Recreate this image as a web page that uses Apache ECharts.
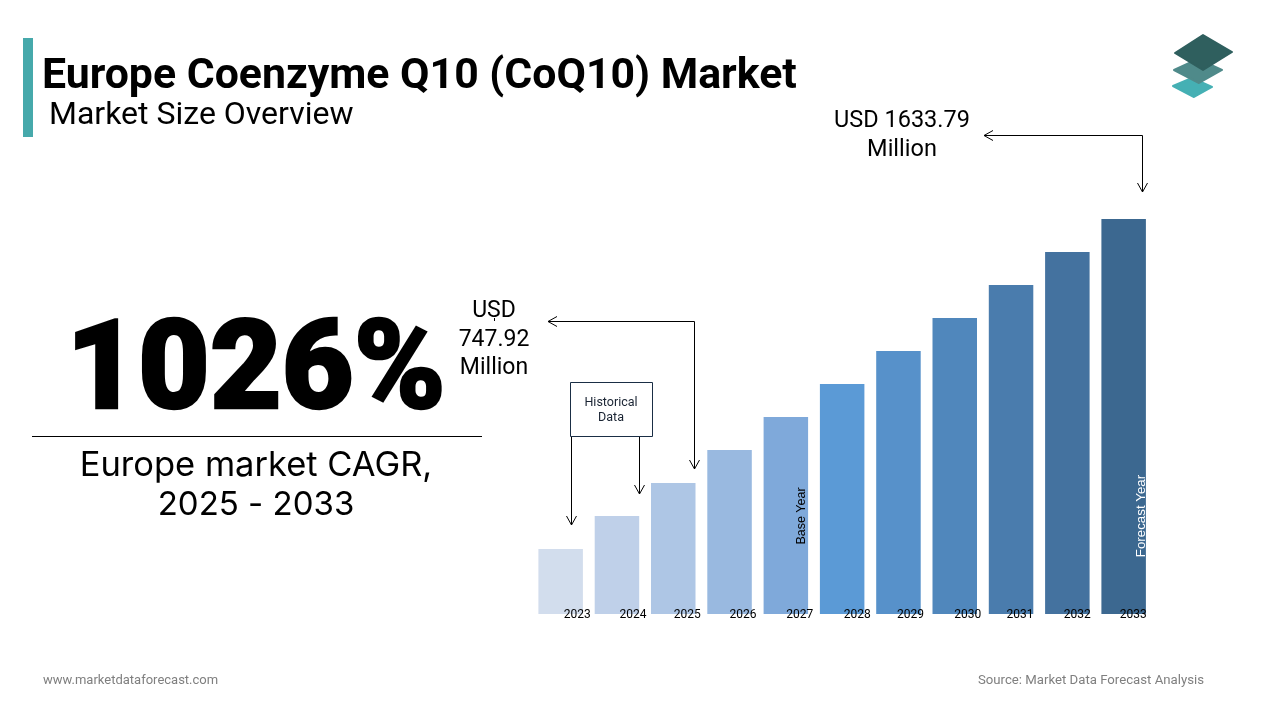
<!DOCTYPE html>
<html>
<head>
<meta charset="utf-8">
<title>Europe Coenzyme Q10 (CoQ10) Market</title>
<script src="https://cdn.jsdelivr.net/npm/echarts@6/dist/echarts.min.js"></script>
<style>
html, body { margin: 0; padding: 0; background: #fff; }
#main { width: 1280px; height: 720px; }
</style>
</head>
<body>
<div id="main"></div>
<script>
// values, only 2025 and 2033 are printed on it
var years = ['2023', '2024', '2025', '2026', '2027', '2028', '2029', '2030', '2031', '2032', '2033'];
var marketSize = [526.5, 637.2, 747.92, 858.6, 969.4, 1080.1, 1190.9, 1301.6, 1412.3, 1523.1, 1633.79];
var barColors = ['#d2dded', '#bfd0e9', '#aec6e5', '#99b9e0', '#7fa9da', '#5b9ad6', '#5791ca', '#5087bc', '#4a7cad', '#44729f', '#3c6890'];

var myChart = echarts.init(document.getElementById('main'));

// year labels sit off-centre by a different amount under each bar
var labelShift = [33, 32, 28, 27, 28, 30, 24, 26, 18, 20, 19];

function text(x, y, str, size, opts) {
	opts = opts || {};
	return {
		type: 'text', x: x, y: y, rotation: opts.rotation || 0, silent: true, z: 10,
		style: {
			text: str,
			fill: opts.color || '#000',
			stroke: opts.stroke || null,
			lineWidth: opts.strokeWidth || 0,
			font: (opts.weight || 'normal') + ' ' + size + 'px ' + (opts.family || 'Roboto'),
			align: opts.align || 'center',
			verticalAlign: 'middle'
		}
	};
}

function line(points, color, width) {
	return {
		type: 'polyline', silent: true, z: 10,
		shape: { points: points },
		style: { stroke: color || '#000', lineWidth: width || 1, fill: null }
	};
}

function diamond(points, color) {
	return {
		type: 'polygon', silent: true, z: 10,
		shape: { points: points },
		style: { fill: color, stroke: color, lineWidth: 2, lineJoin: 'round' }
	};
}

function arrowDown(x, y) {
	return line([[x - 5, y - 9], [x, y], [x + 5, y - 9]]);
}

function arrowLeft(x, y) {
	return line([[x + 9, y - 5], [x, y], [x + 9, y + 5]]);
}

var graphics = [
	{ type: 'rect', silent: true, shape: { x: 23, y: 38, width: 10, height: 99 }, style: { fill: '#46a9ab' } },
	text(42, 77, 'Europe Coenzyme Q10 (CoQ10) Market', 42.8, { align: 'left', weight: 'bold' }),
	text(49, 116, 'Market Size Overview', 32, { align: 'left' }),

	text(256, 377, '1026%', 124, { weight: '900', stroke: '#000', strokeWidth: 2.5 }),
	line([[32, 436.5], [482, 436.5]]),
	text(256, 466, 'Europe market CAGR,', 34.5, { family: 'Inter' }),
	text(256, 505, '2025 - 2033', 33, { family: 'Inter' }),

	text(902, 121, 'USD 1633.79', 23.5),
	text(902, 150, 'Million', 23.5),
	line([[984, 135.5], [1142.5, 135.5], [1142.5, 192]]),
	arrowLeft(984, 135.5),
	arrowDown(1142.5, 192),

	text(494, 311, 'USD', 23),
	text(494, 340, '747.92', 23),
	text(494, 368, 'Million', 23),
	line([[494.5, 318], [494.5, 321]]),
	line([[548, 321.5], [694.5, 321.5], [694.5, 469]]),
	arrowLeft(548, 321.5),
	arrowDown(694.5, 469),

	{ type: 'rect', silent: true, z: 10, shape: { x: 570.5, y: 382.5, width: 82, height: 54 }, style: { fill: '#fff', stroke: '#1a2e45', lineWidth: 1 } },
	text(611, 403, 'Historical', 12.5, { color: '#1a2433' }),
	text(611, 418, 'Data', 12.5, { color: '#1a2433' }),
	line([[571.5, 437], [571.5, 525]]),
	arrowDown(571.5, 525),
	line([[639.5, 437], [639.5, 494]]),
	arrowDown(639.5, 494),

	text(802, 516, 'Base Year', 12.5, { rotation: Math.PI / 2, family: 'Liberation Sans' }),
	text(1141, 516, 'Forecast Year', 13.3, { rotation: Math.PI / 2, family: 'Liberation Sans', color: '#fff' }),

	diamond([[1192, 78], [1212, 87], [1194, 97], [1173, 86]], '#45b0b4'),
	diamond([[1198, 59], [1222, 70], [1199, 83], [1174, 70]], '#4f8a8a'),
	diamond([[1203, 35], [1232, 52], [1203, 70], [1175, 53]], '#2f5f5e'),

	text(43, 681, 'www.marketdataforecast.com', 13, { align: 'left', color: '#7f7f7f' }),
	text(1204, 681, 'Source: Market Data Forecast Analysis', 13.2, { align: 'right', color: '#7f7f7f' })
];

var option = {
	backgroundColor: '#fff',
	animation: false,
	textStyle: { fontFamily: 'Roboto' },
	grid: { left: 532.5, right: 1280 - 1151.8, top: 219, bottom: 720 - 614 },
	xAxis: {
		type: 'category',
		z: 5,
		data: years.map(function (y, i) {
			return { value: y, textStyle: { padding: [0, 0, 0, labelShift[i]] } };
		}),
		axisLine: { show: false },
		axisTick: { show: false },
		axisLabel: { margin: -5, fontSize: 12, color: '#000', fontFamily: 'Roboto', interval: 0 }
	},
	yAxis: { type: 'value', show: false, min: 308.3, max: 1633.79, splitLine: { show: false } },
	series: [{
		type: 'bar',
		barWidth: 44.5,
		silent: true,
		data: marketSize.map(function (v, i) {
			return { value: v, itemStyle: { color: barColors[i] } };
		})
	}],
	graphic: graphics
};

myChart.setOption(option, true);
</script>
</body>
</html>
